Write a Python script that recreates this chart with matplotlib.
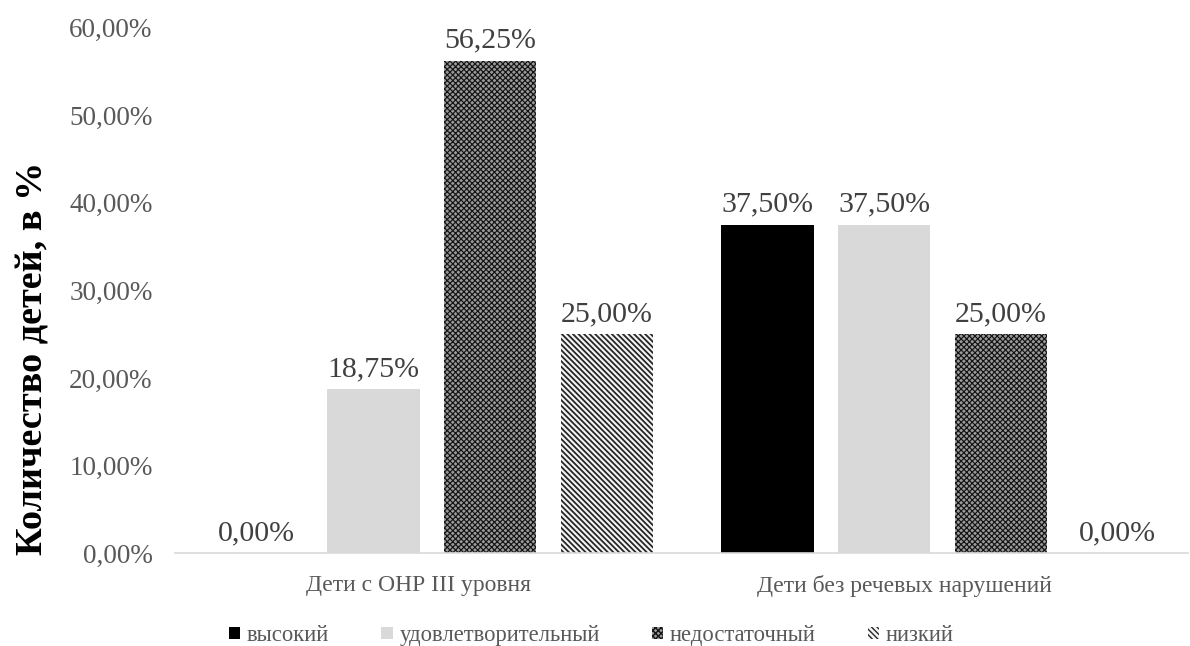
import numpy as np
import matplotlib
matplotlib.use('Agg')
import matplotlib.pyplot as plt
from matplotlib.patches import Patch

# data
groups = ['Дети с ОНР III уровня', 'Дети без речевых нарушений']
levels = ['высокий', 'удовлетворительный', 'недостаточный', 'низкий']
vysokiy = [0.0, 37.50]
udovl = [18.75, 37.50]
nedost = [56.25, 25.00]
nizkiy = [25.00, 0.0]
yticks = [0, 10, 20, 30, 40, 50, 60]

series = [vysokiy, udovl, nedost, nizkiy]

# styles: (facecolor, hatch, hatch color, hatch linewidth)
styles = [('#000000', None, '#000000', 1.0),
          ('#d9d9d9', None, '#d9d9d9', 1.0),
          ('#9a9a9a', 'x' * 6, '#141414', 0.85),
          ('#f5f5f5', '\\' * 6, '#262626', 1.3)]

plt.rcParams['font.family'] = ['Liberation Serif', 'DejaVu Serif']

fig = plt.figure(figsize=(11.9, 6.46), dpi=100)
ax = fig.add_axes([0.147, 0.144, 0.851, 0.813])

x = np.arange(len(groups))
step = 0.2286
width = 0.181

for i, vals in enumerate(series):
    fc, hatch, hc, hlw = styles[i]
    pos = x + (i - 1.5) * step
    with plt.rc_context({'hatch.linewidth': hlw}):
        bars = ax.bar(pos, vals, width, color=fc, hatch=hatch, edgecolor=hc,
                      linewidth=0, label=levels[i])
    for b, v in zip(bars, vals):
        ax.annotate(f'{v:.2f}'.replace('.', ',') + '%',
                    xy=(b.get_x() + b.get_width() / 2, v),
                    xytext=(0, 5), textcoords='offset points',
                    ha='center', va='bottom', fontsize=21.5, color='#404040')

ax.set_xlim(-0.503, 1.48)
ax.set_ylim(0, 60)
ax.set_yticks(yticks)
ax.set_yticklabels([f'{t:.2f}'.replace('.', ',') + '%' for t in yticks],
                   fontsize=19.5, color='#595959')
# category labels sit a little left of the bar groups, as in the source
ax.set_xticks(x + np.array([-0.027, -0.074]))
ax.set_xticklabels(groups, fontsize=17, color='#595959')
ax.tick_params(axis='both', length=0)
ax.tick_params(axis='y', pad=16)
ax.tick_params(axis='x', pad=16)

for s in ['left', 'right', 'top']:
    ax.spines[s].set_visible(False)
ax.spines['bottom'].set_color('#d9d9d9')
ax.spines['bottom'].set_linewidth(1.2)

ax.set_ylabel('Количество детей, в %', fontsize=27.5, fontweight='bold',
              color='#000000')
ax.yaxis.set_label_coords(-0.123, 0.37)

handles = []
for i in range(4):
    fc, hatch, hc, hlw = styles[i]
    with plt.rc_context({'hatch.linewidth': hlw}):
        handles.append(Patch(facecolor=fc, hatch=hatch, edgecolor=hc,
                             linewidth=0, label=levels[i]))
fig.legend(handles=handles, loc='center', bbox_to_anchor=(0.497, 0.016),
           ncol=4, frameon=False, fontsize=16.3, handlelength=0.5,
           handleheight=0.45, handletextpad=0.3, columnspacing=2.3,
           labelcolor='#595959')

fig.savefig('out.png', dpi=100)
